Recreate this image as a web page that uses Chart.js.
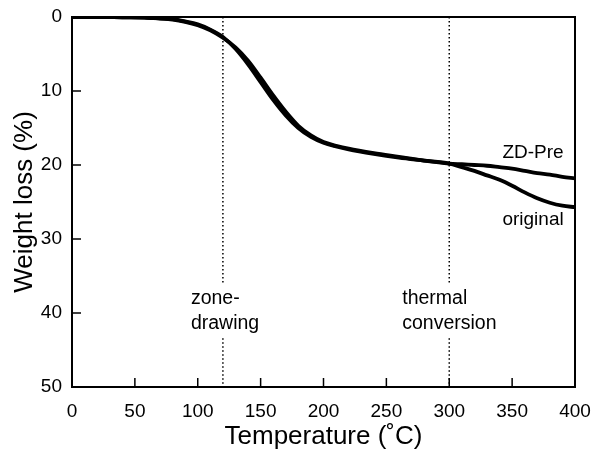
<!DOCTYPE html>
<html><head><meta charset="utf-8">
<script src="https://cdn.jsdelivr.net/npm/chart.js@4"></script>
<style>html,body{margin:0;padding:0;background:#fff}#wrap{width:593px;height:450px}</style>
</head><body><div id="wrap"><canvas id="c" width="593" height="450"></canvas></div>
<script>
const temps = [0,20,40,60,70,80,90,100,110,120,130,140,150,160,170,180,190,200,210,220,240,260,280,300,310,320,330,340,350,360,370,380,390,400];
const zdPre = [0,0,0.05,0.1,0.2,0.35,0.65,1.1,1.8,2.8,4.1,5.9,8.2,10.6,12.8,14.7,16.0,16.9,17.4,17.8,18.4,18.9,19.4,19.8,19.9,20.0,20.1,20.3,20.5,20.8,21.1,21.3,21.6,21.8];
const original = [0,0,0.05,0.1,0.2,0.3,0.6,1.0,1.7,2.7,4.3,6.4,8.8,11.2,13.3,15.0,16.2,17.0,17.5,17.9,18.5,19.0,19.4,19.8,20.3,20.8,21.4,22.0,22.8,23.7,24.5,25.1,25.5,25.7];
const xTicks = [0,50,100,150,200,250,300,350,400];
const yTicks = [0,10,20,30,40,50];
const markers = [120, 300];
const markerLabels = [["zone-","drawing"],["thermal","conversion"]];
const seriesLabels = ["ZD-Pre","original"];

const FONT = "'Liberation Sans', Arial, Helvetica, sans-serif";
const pts = arr => temps.map((t,i)=>({x:t,y:arr[i]}));

const markerSets = [];
markers.forEach(m=>{
  markerSets.push({data:[{x:m,y:0},{x:m,y:36.1}],borderColor:'#000',borderWidth:1.5,borderDash:[1.5,2.5],pointRadius:0,fill:false});
  markerSets.push({data:[{x:m,y:43.4},{x:m,y:50}],borderColor:'#000',borderWidth:1.5,borderDash:[1.5,2.5],pointRadius:0,fill:false});
});

const deco = {
  id:'deco',
  afterDraw(chart){
    const {ctx, chartArea:a, scales:{x,y}} = chart;
    ctx.save();
    ctx.strokeStyle='#000';
    ctx.lineWidth=2;
    ctx.strokeRect(a.left,a.top,a.right-a.left,a.bottom-a.top);
    ctx.lineWidth=1.5;
    ctx.beginPath();
    xTicks.forEach(v=>{const px=x.getPixelForValue(v);ctx.moveTo(px,a.bottom);ctx.lineTo(px,a.bottom-9);});
    yTicks.forEach(v=>{const py=y.getPixelForValue(v);ctx.moveTo(a.left,py);ctx.lineTo(a.left+9,py);});
    ctx.stroke();
    ctx.fillStyle='#000';
    ctx.font="19.5px "+FONT;
    ctx.textAlign='left';ctx.textBaseline='middle';
    const offs=[-32,-47];
    markers.forEach((m,i)=>{
      const lines = markerLabels[i];
      const px = x.getPixelForValue(m);
      ctx.fillText(lines[0], px+offs[i], y.getPixelForValue(38.0));
      ctx.fillText(lines[1], px+offs[i], y.getPixelForValue(41.5));
    });
    ctx.textAlign='right';
    ctx.font="19px "+FONT;
    ctx.fillText(seriesLabels[0], x.getPixelForValue(391), y.getPixelForValue(18.4));
    ctx.fillText(seriesLabels[1], x.getPixelForValue(391), y.getPixelForValue(27.4));
    ctx.restore();
  }
};

new Chart(document.getElementById('c'),{
  type:'line',
  data:{datasets:[
    {label:seriesLabels[0],data:pts(zdPre),borderColor:'#000',borderWidth:3.8,pointRadius:0,cubicInterpolationMode:'monotone',fill:false},
    {label:seriesLabels[1],data:pts(original),borderColor:'#000',borderWidth:3.8,pointRadius:0,cubicInterpolationMode:'monotone',fill:false},
    ...markerSets
  ]},
  options:{
    responsive:false,animation:false,
    layout:{padding:{top:17,right:18,left:0,bottom:0}},
    plugins:{legend:{display:false},tooltip:{enabled:false}},
    scales:{
      x:{type:'linear',min:0,max:400,
        afterBuildTicks(s){s.ticks=xTicks.map(v=>({value:v}));},
        afterFit(s){s.height=63;s.paddingLeft=0;s.paddingRight=0;},
        grid:{display:false,drawTicks:false},border:{display:false},
        ticks:{color:'#000',font:{family:FONT,size:19},padding:13,maxRotation:0},
        title:{display:true,text:'Temperature (˚C)',color:'#000',font:{family:FONT,size:26,lineHeight:1.0},padding:{top:0,bottom:0}}},
      y:{type:'linear',min:0,max:50,reverse:true,
        afterBuildTicks(s){s.ticks=yTicks.map(v=>({value:v}));},
        afterFit(s){s.width=72;s.paddingTop=0;s.paddingBottom=0;},
        grid:{display:false,drawTicks:false},border:{display:false},
        ticks:{color:'#000',font:{family:FONT,size:19},padding:10},
        title:{display:true,text:'Weight loss (%)',color:'#000',font:{family:FONT,size:26,lineHeight:1.0},padding:{top:12,bottom:0}}}
    }
  },
  plugins:[deco]
});
</script></body></html>
